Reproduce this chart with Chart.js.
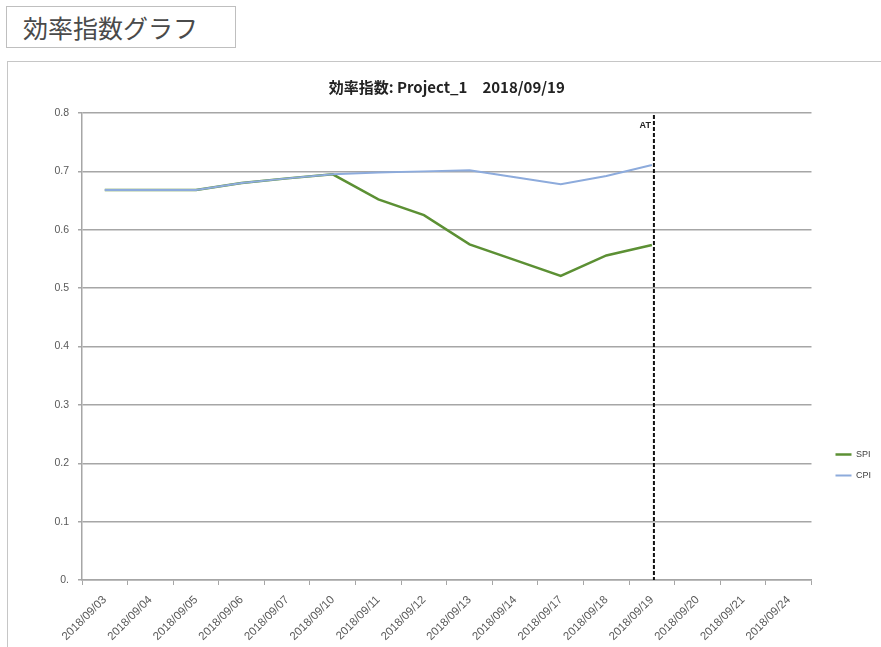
<!DOCTYPE html>
<html>
<head>
<meta charset="utf-8">
<script src="https://cdn.jsdelivr.net/npm/chart.js@4.4.1/dist/chart.umd.min.js"></script>
<style>
body { margin: 0; background: #fff; overflow: hidden; width: 881px; height: 647px; position: relative; }
#heading { position: absolute; left: 6px; top: 6px; width: 230px; height: 42px; border: 1px solid #bfbfbf; box-sizing: border-box;
  font: 25px "Noto Sans CJK JP"; color: #4a4a4a; line-height: 40px; padding-left: 16px; }
#frame { position: absolute; left: 7px; top: 61px; width: 900px; height: 700px; border: 1px solid #c6c6c6; }
#wrap { position: absolute; left: 0; top: 0; }
</style>
</head>
<body>
<div id="heading">効率指数グラフ</div>
<div id="frame"></div>
<div id="wrap"><canvas id="chart" width="881" height="860"></canvas></div>
<script>
// データ
const dates = ['2018/09/03', '2018/09/04', '2018/09/05', '2018/09/06', '2018/09/07', '2018/09/10', '2018/09/11', '2018/09/12',
  '2018/09/13', '2018/09/14', '2018/09/17', '2018/09/18', '2018/09/19', '2018/09/20', '2018/09/21', '2018/09/24'];
const spiValues = [0.668, 0.668, 0.668, 0.680, 0.688, 0.695, 0.652, 0.625, 0.575, 0.548, 0.521, 0.556, 0.574, null, null, null];
const cpiValues = [0.668, 0.668, 0.668, 0.680, 0.688, 0.695, 0.698, 0.700, 0.702, 0.690, 0.678, 0.692, 0.711, null, null, null];
const yTickLabels = ['0.', '0.1', '0.2', '0.3', '0.4', '0.5', '0.6', '0.7', '0.8'];
const atDate = '2018/09/19';
const chartTitle = '効率指数: Project_1　2018/09/19';

const gridColor = '#a6a6a6';
const tickColor = '#595959';

// AT の縦線
const atLinePlugin = {
    id: 'atLine',
    afterDatasetsDraw(chart) {
        const { ctx, chartArea } = chart;
        const x = chart.scales.x.getPixelForValue(dates.indexOf(atDate)) + 2;
        ctx.save();
        ctx.strokeStyle = '#111';
        ctx.lineWidth = 2;
        ctx.setLineDash([4, 2]);
        ctx.beginPath();
        ctx.moveTo(x, chartArea.top + 2);
        ctx.lineTo(x, chartArea.bottom);
        ctx.stroke();
        ctx.setLineDash([]);
        ctx.fillStyle = '#222';
        ctx.font = 'bold 9px "Liberation Sans"';
        ctx.textAlign = 'right';
        ctx.textBaseline = 'middle';
        ctx.fillText('AT', x - 3, chartArea.top + 13);
        ctx.restore();
    }
};

const ctx = document.getElementById('chart').getContext('2d');
new Chart(ctx, {
    type: 'line',
    data: {
        labels: dates,
        datasets: [{
            label: 'SPI',
            data: spiValues,
            borderColor: '#5c9034',
            backgroundColor: '#5c9034',
            borderWidth: 2.5,
            pointRadius: 0,
            order: 2
        }, {
            label: 'CPI',
            data: cpiValues,
            borderColor: '#8dabdc',
            backgroundColor: '#8dabdc',
            borderWidth: 2,
            pointRadius: 0,
            order: 1
        }]
    },
    options: {
        responsive: false,
        animation: false,
        devicePixelRatio: 1,
        layout: { padding: { top: 70, left: 0, right: 0, bottom: 0 } },
        plugins: {
            title: {
                display: true,
                text: chartTitle,
                fullSize: false,
                color: '#222',
                font: { family: '"Noto Sans CJK JP"', size: 15, weight: 'bold' },
                padding: { top: 8, bottom: 17 }
            },
            legend: {
                position: 'right',
                labels: {
                    usePointStyle: true,
                    pointStyle: 'line',
                    pointStyleWidth: 16,
                    padding: 12,
                    color: '#404040',
                    font: { family: '"Liberation Sans"', size: 9 },
                    sort: (a, b) => a.datasetIndex - b.datasetIndex
                }
            },
            tooltip: { enabled: false }
        },
        scales: {
            x: {
                offset: true,
                grid: { offset: true, drawOnChartArea: false, color: gridColor, tickLength: 5 },
                border: { color: gridColor, width: 1.5 },
                ticks: { color: tickColor, font: { family: '"Liberation Sans"', size: 11.5 }, minRotation: 45, maxRotation: 45, autoSkip: false, padding: 8 },
                afterFit(s) { s.height = 860 - 580; }
            },
            y: {
                min: 0,
                max: 0.8,
                ticks: {
                    stepSize: 0.1,
                    color: tickColor,
                    font: { family: '"Liberation Sans"', size: 10.5 },
                    padding: 9,
                    callback: (v, i) => yTickLabels[i]
                },
                grid: { color: gridColor, lineWidth: 1.5, tickLength: 4 },
                border: { color: gridColor, width: 1.5 },
                afterFit(s) { s.width = 82; }
            },
            spacer: {
                position: 'right',
                display: true,
                grid: { display: false },
                ticks: { display: false },
                border: { display: false },
                afterFit(s) { s.width = 12; }
            }
        }
    },
    plugins: [atLinePlugin]
});
</script>
</body>
</html>
